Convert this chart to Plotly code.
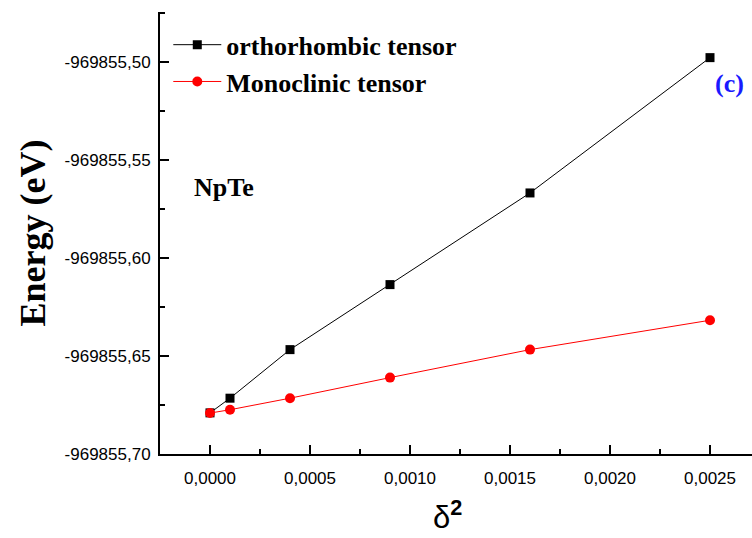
import plotly.graph_objects as go

# strain parameter delta^2 and total energies (eV)
delta_sq = [0.0, 0.0001, 0.0004, 0.0009, 0.0016, 0.0025]
energy_ortho = [-969855.6790, -969855.6715, -969855.6467, -969855.6135, -969855.5667, -969855.4976]
energy_mono = [-969855.6791, -969855.6774, -969855.6715, -969855.6610, -969855.6467, -969855.6317]

series_names = ["orthorhombic tensor", "Monoclinic tensor"]

# axis tick positions
x_ticks = [0.0, 0.0005, 0.0010, 0.0015, 0.0020, 0.0025]
y_ticks = [-969855.70, -969855.65, -969855.60, -969855.55, -969855.50]


def comma_label(v, digits):
    # decimal comma and a plain hyphen for the sign
    return f"{v:.{digits}f}".replace(".", ",")


fig = go.Figure()

fig.add_trace(go.Scatter(
    x=delta_sq, y=energy_ortho, name=series_names[0], mode="lines+markers",
    line=dict(color="black", width=1),
    marker=dict(symbol="square", size=9, color="black"),
))
fig.add_trace(go.Scatter(
    x=delta_sq, y=energy_mono, name=series_names[1], mode="lines+markers",
    line=dict(color="#ff0000", width=1),
    marker=dict(symbol="circle", size=10, color="#ff0000"),
))

tick_font = dict(family="Liberation Sans, Arial, sans-serif", size=17, color="black")
serif = "Liberation Serif, Times New Roman, serif"

fig.update_layout(
    width=752, height=538,
    margin=dict(l=160, r=0, t=12, b=84),
    paper_bgcolor="white", plot_bgcolor="white",
    showlegend=True,
    legend=dict(
        x=0.014, y=0.979, xanchor="left", yanchor="top",
        bgcolor="rgba(0,0,0,0)",
        font=dict(family=serif, size=26, color="black", weight="bold"),
        tracegroupgap=0, itemwidth=48,
    ),
    xaxis=dict(
        range=[-0.00025, 0.00271],
        tickvals=x_ticks, ticktext=[comma_label(v, 4) for v in x_ticks],
        ticks="inside", ticklen=9, tickwidth=1.5, tickcolor="black",
        ticklabelstandoff=8,
        minor=dict(dtick=0.00025, ticks="inside", ticklen=5, tickwidth=1.5, tickcolor="black"),
        showline=True, linecolor="black", linewidth=2,
        showgrid=False, zeroline=False,
        tickfont=tick_font,
    ),
    yaxis=dict(
        range=[-969855.70, -969855.4743],
        tickvals=y_ticks, ticktext=[comma_label(v, 2) for v in y_ticks],
        ticks="inside", ticklen=9, tickwidth=1.5, tickcolor="black",
        ticklabelstandoff=4,
        minor=dict(dtick=0.025, tick0=-969855.70, ticks="inside", ticklen=5, tickwidth=1.5, tickcolor="black"),
        showline=True, linecolor="black", linewidth=2,
        showgrid=False, zeroline=False,
        tickfont=tick_font,
        title=dict(
            text="Energy (eV)",
            font=dict(family=serif, size=36, color="black", weight="bold"),
            standoff=8,
        ),
    ),
)

# x-axis title
fig.add_annotation(
    x=0.485, y=-0.139, xref="paper", yref="paper", text="δ<sup><b>2</b></sup>",
    showarrow=False, xanchor="center", yanchor="middle",
    font=dict(family="Liberation Sans, Arial, sans-serif", size=31, color="black"),
)
fig.add_annotation(
    x=0.00007, y=-969855.5638, xref="x", yref="y", text="NpTe", showarrow=False,
    font=dict(family=serif, size=26, color="black", weight="bold"),
)
fig.add_annotation(
    x=0.002595, y=-969855.5106, xref="x", yref="y", text="(c)", showarrow=False,
    font=dict(family=serif, size=26, color="#1a1aff", weight="bold"),
)

fig.write_html("out.html")
